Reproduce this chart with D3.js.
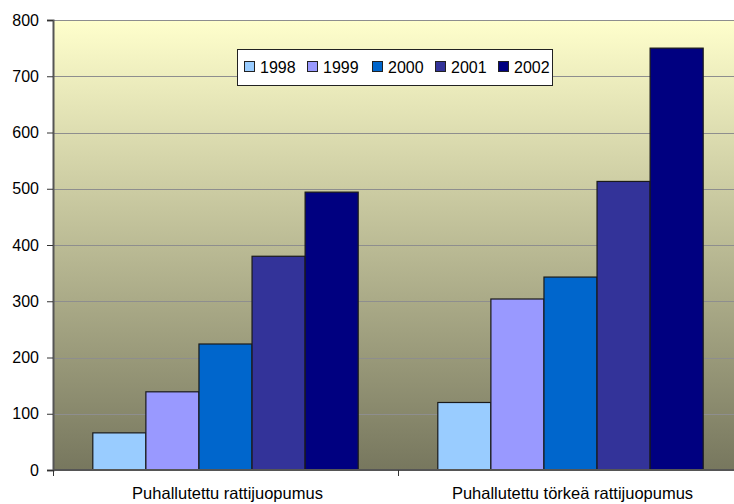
<!DOCTYPE html>
<html>
<head>
<meta charset="utf-8">
<script src="https://cdn.jsdelivr.net/npm/d3@7"></script>
<style>
  html, body { margin: 0; padding: 0; background: #ffffff; }
  svg { display: block; font-family: Arial, "Liberation Sans", sans-serif; }
</style>
</head>
<body>
<svg id="chart" width="734" height="504"></svg>
<script>
// Blood-alcohol offences caught by breath testing, by year
const categories = ["Puhallutettu rattijuopumus", "Puhallutettu törkeä rattijuopumus"];
const years = ["1998", "1999", "2000", "2001", "2002"];
const values1998 = [66, 120];
const values1999 = [139, 304];
const values2000 = [224, 343];
const values2001 = [380, 513];
const values2002 = [494, 750];
const yTicks = [0, 100, 200, 300, 400, 500, 600, 700, 800];
const colors = ["#99CCFF", "#9999FF", "#0066CC", "#333399", "#000080"];

const seriesValues = [values1998, values1999, values2000, values2001, values2002];

const svg = d3.select("#chart");
const margin = { left: 53, top: 20, right: -9, bottom: 34 };
const W = 734, H = 504;
const x0 = margin.left, x1 = W - margin.right;
const y0 = H - margin.bottom, y1 = margin.top;

// one band per category; bars inside with a 150% gap (0.75 bar width on each side)
const x = d3.scaleBand().domain(categories).range([x0, x1]).padding(0);
const xs = d3.scaleBand().domain(years).range([0, x.bandwidth()]).paddingOuter(0.75).paddingInner(0);
const y = d3.scaleLinear().domain([0, 800]).range([y0, y1]);

// plot area gradient
const defs = svg.append("defs");
const grad = defs.append("linearGradient").attr("id", "bg").attr("x1", 0).attr("y1", 0).attr("x2", 0).attr("y2", 1);
grad.append("stop").attr("offset", "0%").attr("stop-color", "#FFFFCC");
grad.append("stop").attr("offset", "100%").attr("stop-color", "#77775E");

svg.append("rect")
  .attr("x", x0).attr("y", y1)
  .attr("width", x1 - x0).attr("height", y0 - y1)
  .attr("fill", "url(#bg)");

// gridlines
svg.append("g")
  .selectAll("line")
  .data(yTicks.filter(d => d > 0))
  .join("line")
  .attr("x1", x0).attr("x2", x1)
  .attr("y1", d => Math.round(y(d)) + 0.5).attr("y2", d => Math.round(y(d)) + 0.5)
  .attr("stroke", "#8e8e8e").attr("stroke-width", 1);

// bars
const groups = svg.append("g")
  .selectAll("g")
  .data(categories)
  .join("g")
  .attr("transform", d => `translate(${x(d)},0)`);

groups.selectAll("rect")
  .data((c, ci) => years.map((yr, si) => ({ yr, v: seriesValues[si][ci], si })))
  .join("rect")
  .attr("x", d => xs(d.yr))
  .attr("y", d => y(d.v))
  .attr("width", xs.bandwidth())
  .attr("height", d => y0 - y(d.v))
  .attr("fill", d => colors[d.si])
  .attr("stroke", "#1a1a1a")
  .attr("stroke-width", 1.2);

// y axis
const yAxis = d3.axisLeft(y).tickValues(yTicks).tickSize(6).tickPadding(8).tickFormat(d3.format("d"));
const gy = svg.append("g").attr("transform", `translate(${x0},0)`).call(yAxis);
gy.select(".domain").attr("stroke", "#555").attr("stroke-width", 2);
gy.selectAll(".tick line").attr("stroke", "#333");
gy.selectAll(".tick text").attr("font-size", 16).attr("fill", "#000")
  .attr("font-family", "Arial, 'Liberation Sans', sans-serif");

// x axis
const gx = svg.append("g").attr("transform", `translate(0,${y0})`);
gx.append("line").attr("x1", x0).attr("x2", x1).attr("y1", 0).attr("y2", 0)
  .attr("stroke", "#555").attr("stroke-width", 2);
gx.selectAll(".sep")
  .data(categories)
  .join("line")
  .attr("class", "sep")
  .attr("x1", d => x(d) + 0.5).attr("x2", d => x(d) + 0.5)
  .attr("y1", 0).attr("y2", 6)
  .attr("stroke", "#333");
gx.selectAll("text")
  .data(categories)
  .join("text")
  .attr("x", d => x(d) + x.bandwidth() / 2 + 2)
  .attr("y", 29)
  .attr("text-anchor", "middle")
  .attr("font-size", 16.5)
  .attr("fill", "#000")
  .text(d => d);

// legend
const lg = svg.append("g").attr("transform", "translate(237,49)");
lg.append("rect").attr("x", 0.5).attr("y", 0.5).attr("width", 315).attr("height", 36)
  .attr("fill", "#ffffff").attr("stroke", "#222");
const itemX = [7, 70, 135, 198, 261];
const items = lg.selectAll("g.item").data(years).join("g").attr("class", "item")
  .attr("transform", (d, i) => `translate(${itemX[i]},0)`);
items.append("rect").attr("x", 0.5).attr("y", 12.5).attr("width", 10).attr("height", 10)
  .attr("fill", (d, i) => colors[i]).attr("stroke", "#222");
items.append("text").attr("x", 16).attr("y", 24).attr("font-size", 16).attr("fill", "#000").text(d => d);
</script>
</body>
</html>
